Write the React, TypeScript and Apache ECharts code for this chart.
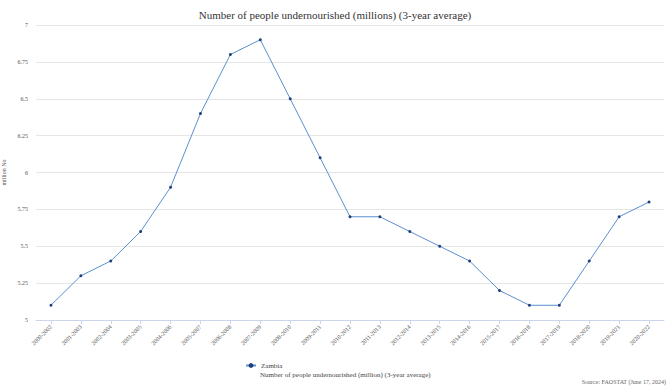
import React, { useEffect, useRef } from "react";
import * as echarts from "echarts";

const categories = [
  "2000-2002", "2001-2003", "2002-2004", "2003-2005", "2004-2006", "2005-2007",
  "2006-2008", "2007-2009", "2008-2010", "2009-2011", "2010-2012", "2011-2013",
  "2012-2014", "2013-2015", "2014-2016", "2015-2017", "2016-2018", "2017-2019",
  "2018-2020", "2019-2021", "2020-2022",
];
const zambia = [5.1, 5.3, 5.4, 5.6, 5.9, 6.4, 6.8, 6.9, 6.5, 6.1, 5.7, 5.7, 5.6, 5.5, 5.4, 5.2, 5.1, 5.1, 5.4, 5.7, 5.8];
const seriesName = "Zambia";
const indicator = "Number of people undernourished (million) (3-year average)";
const titleText = "Number of people undernourished (millions) (3-year average)";
const sourceText = "Source: FAOSTAT (June 17, 2024)";
const yName = "million No";

const FONT = "Liberation Serif, Times New Roman, serif";

export default function App() {
  const ref = useRef<HTMLDivElement>(null);
  useEffect(() => {
    if (!ref.current) return;
    const chart = echarts.init(ref.current, undefined, { renderer: "svg" });
    chart.setOption({
      animation: false,
      textStyle: { fontFamily: FONT },
      title: {
        text: titleText,
        left: "center",
        top: 4,
        textStyle: { fontFamily: FONT, fontSize: 11, fontWeight: "normal", color: "#333" },
      },
      grid: { left: 36, right: 6, top: 25, bottom: 70, outerBoundsMode: "none", containLabel: false },
      xAxis: {
        type: "category",
        data: categories,
        boundaryGap: true,
        axisLine: { lineStyle: { color: "#ccd6eb" } },
        axisTick: { show: true, alignWithLabel: true, length: 4, lineStyle: { color: "#ccd6eb" } },
        axisLabel: { rotate: 45, fontSize: 6, color: "#555", fontFamily: FONT, margin: 6, interval: 0 },
      },
      yAxis: {
        type: "value",
        min: 5,
        max: 7,
        interval: 0.25,
        name: yName,
        nameLocation: "middle",
        nameGap: 22,
        nameRotate: 90,
        nameTextStyle: { fontSize: 6, color: "#555", fontFamily: FONT },
        axisLine: { show: false },
        axisTick: { show: false },
        axisLabel: { fontSize: 6, color: "#555", fontFamily: FONT, margin: 8 },
        splitLine: { lineStyle: { color: "#e6e6e6" } },
      },
      legend: {
        left: 245,
        top: 362,
        padding: 0,
        itemWidth: 10,
        itemHeight: 6,
        itemGap: 4,
        textStyle: { fontSize: 7, color: "#444", fontFamily: FONT },
        data: [seriesName],
      },
      graphic: [
        {
          type: "text",
          left: 260,
          top: 371,
          style: { text: indicator, fontSize: 7, fill: "#444", fontFamily: FONT },
        },
        {
          type: "text",
          right: 4,
          top: 379,
          style: { text: sourceText, fontSize: 6, fill: "#666", fontFamily: FONT },
        },
      ],
      series: [
        {
          name: seriesName,
          type: "line",
          data: zambia,
          symbol: "circle",
          symbolSize: 3,
          lineStyle: { color: "#5b8fd0", width: 1 },
          itemStyle: { color: "#1f3f7a" },
        },
      ],
    });
    return () => chart.dispose();
  }, []);
  return <div ref={ref} style={{ width: 670, height: 390, position: "absolute", left: 0, top: 0 }} />;
}
